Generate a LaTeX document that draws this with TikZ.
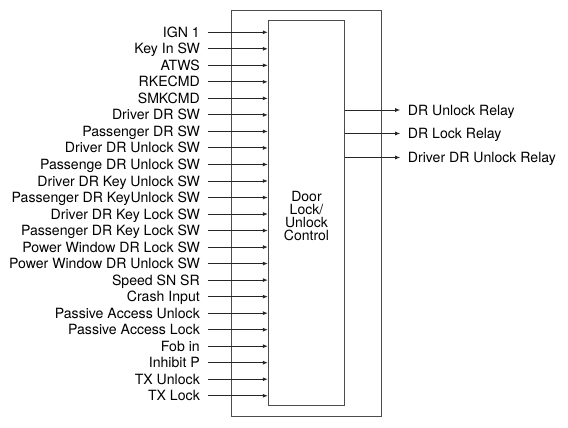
\documentclass[tikz,border=0pt]{standalone}
\usepackage{fontspec}
\setmainfont{TeX Gyre Heros}
\usetikzlibrary{arrows.meta}
\begin{document}
\begin{tikzpicture}[x=1bp,y=-1bp,
  box/.style={draw=black!70, line width=0.9bp, inner sep=0pt},
  conn/.style={draw=black!85, line width=0.9bp, -{Latex[length=5bp,width=4bp]}},
  lbl/.style={font=\fontsize{14.1bp}{15bp}\selectfont, text=black, inner xsep=7.5bp, inner ysep=0pt, text height=10.1bp, text depth=0pt},
  inlbl/.style={lbl, anchor=east},
  outlbl/.style={lbl, anchor=west},
  ctrl/.style={font=\fontsize{14bp}{12.8bp}\selectfont, align=center, text=black, inner sep=0pt}]
\useasboundingbox (0,0) rectangle (568,427);
\node[box, minimum width=149.3bp, minimum height=406.7bp] (outer) at (306.35,213.35) {};
\node[box, minimum width=76bp, minimum height=385bp] (inner) at (306.3,213.2) {};
\node[ctrl] (label) at (306.5,216) {Door\\Lock/\\Unlock\\Control};
\foreach \t [count=\i] in {IGN 1,Key In SW,ATWS,RKECMD,SMKCMD,Driver DR SW,Passenger DR SW,Driver DR Unlock SW,Passenge DR Unlock SW,Driver DR Key Unlock SW,Passenger DR KeyUnlock SW,Driver DR Key Lock SW,Passenger DR Key Lock SW,Power Window DR Lock SW,Power Window DR Unlock SW,Speed SN SR,Crash Input,Passive Access Unlock,Passive Access Lock,Fob in,Inhibit P,TX Unlock,TX Lock}{
  \node[inlbl] (in\i) at (207.5,{32.3+16.52*(\i-1)}) {\t};
  \draw[conn] (in\i.east) -- (in\i.east -| inner.west);
}
\foreach \t/\y [count=\i] in {DR Unlock Relay/110,DR Lock Relay/133.5,Driver DR Unlock Relay/157.5}{
  \node[outlbl] (out\i) at (400.2,\y) {\t};
  \draw[conn] (out\i.west -| inner.east) -- (out\i.west);
}
\end{tikzpicture}
\end{document}
